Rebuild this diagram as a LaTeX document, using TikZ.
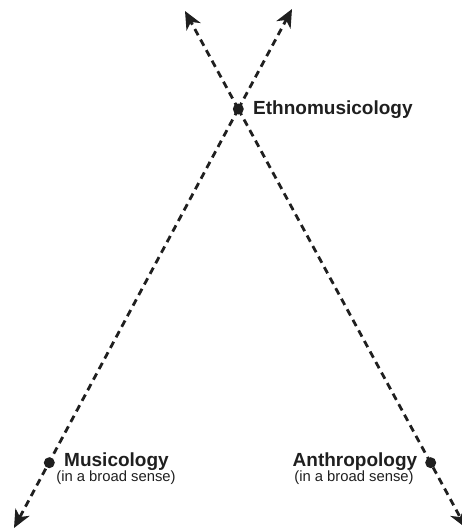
\documentclass[tikz,border=0pt]{standalone}
\usepackage{fontspec}
\setmainfont{Liberation Sans}
\usetikzlibrary{arrows.meta}
\tikzset{
  axisline/.style={line width=2.8pt, dash pattern=on 7pt off 5pt, color=black!88,
    -{Stealth[length=18pt,width=16pt,inset=5.5pt]}},
  fielddot/.style={circle, fill=black!88, inner sep=0pt, minimum size=11pt},
  bigname/.style={font=\fontsize{19}{21}\selectfont\bfseries, text=black!88, inner sep=0pt},
  smallname/.style={font=\fontsize{14.8}{16}\selectfont, text=black!88, inner sep=0pt}
}
\begin{document}
\begin{tikzpicture}[x=1pt,y=-1pt]
\useasboundingbox (0,0) rectangle (462,528);
\coordinate (tl) at (185,11);
\coordinate (tr) at (292,9);
\coordinate (bl) at (14,528);
\coordinate (br) at (466,528);
\node[fielddot] (ethno) at (238.3,109) {};
\node[fielddot] (musi) at (49.3,462.7) {};
\node[fielddot] (anthro) at (430.7,462.7) {};
\draw[axisline] (ethno.center) -- (tl);
\draw[axisline] (ethno.center) -- (tr);
\draw[axisline] (ethno.center) -- (bl);
\draw[axisline] (ethno.center) -- (br);
\node[bigname, anchor=west] (ethnolab) at (253,109.5) {Ethnomusicology};
\node[bigname] (musilab) at (116.5,461.5) {Musicology};
\node[smallname] (musisub) at (116,477.5) {(in a broad sense)};
\node[bigname] (anthrolab) at (355,461.5) {Anthropology};
\node[smallname] (anthrosub) at (354,477.5) {(in a broad sense)};
\end{tikzpicture}
\end{document}
